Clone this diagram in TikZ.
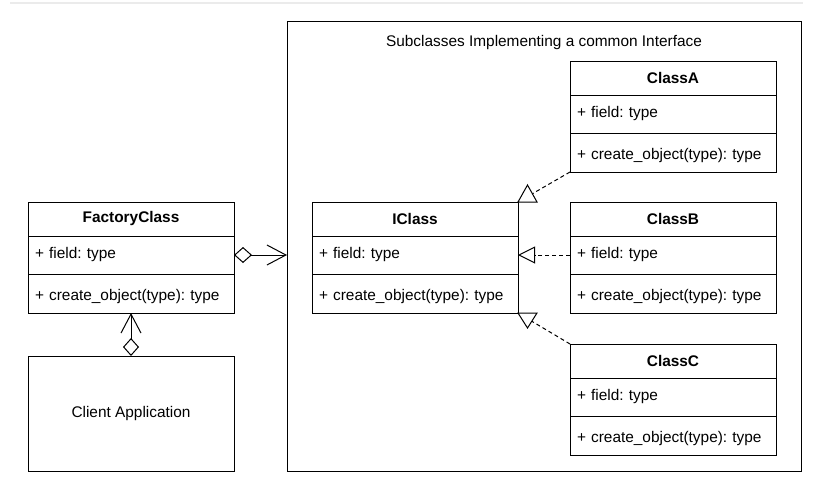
\documentclass[tikz,border=0pt]{standalone}
\usepackage{fontspec}
\setmainfont{Liberation Sans}
\usetikzlibrary{arrows.meta,positioning}
\frenchspacing

\begin{document}
\begin{tikzpicture}[
    x=1pt, y=-1pt,
    font=\fontsize{15.4}{18}\selectfont,
    classtitle/.style={
        rectangle,
        draw,
        line width=1pt,
        outer sep=0pt,
        minimum width=206pt,
        minimum height=34pt,
        inner sep=0pt,
        font=\fontsize{15.4}{18}\selectfont\bfseries
    },
    classfield/.style={
        rectangle,
        draw,
        line width=1pt,
        outer sep=0pt,
        minimum width=206pt,
        minimum height=38pt,
        text width=192pt,
        inner xsep=7pt,
        inner ysep=0pt,
        align=left
    },
    classmethod/.style={
        classfield,
        minimum height=39pt,
        text height=17pt,
        text depth=3pt
    },
    appbox/.style={
        rectangle,
        draw,
        line width=1pt,
        outer sep=0pt,
        minimum width=206pt,
        minimum height=115pt,
        align=center
    },
    frame/.style={
        rectangle,
        draw,
        line width=1pt,
        outer sep=0pt,
        minimum width=514pt,
        minimum height=450pt
    },
    aggr/.style={draw, line width=1pt, {Diamond[open,length=18pt,width=16pt]}-{Straight Barb[length=19pt,width=20pt]}},
    realize/.style={draw, line width=1pt, dash pattern=on 4pt off 3pt},
    gentip/.style={draw, line width=1pt, fill=white}
]
\useasboundingbox (0,0) rectangle (821,501);
\draw[line width=1.5pt, black!8] (10,3) -- (803,3);

% Frame round the subclasses
\node [frame] (frame) at (544,246) {};
\node at ([yshift=-22pt]frame.north) (frametitle) {Subclasses Implementing a common Interface};

% Factory and client
\node [classtitle] (factory) at (131,219) {FactoryClass};
\node [classfield, below=0pt of factory] (factoryfield) {+ field: type};
\node [classmethod, below=0pt of factoryfield] (factorymeth) {+ create\_object(type): type};

\node [appbox, below=43pt of factorymeth] (client) {Client Application};

% Interface
\node [classtitle] (iclass) at (415,219) {IClass};
\node [classfield, below=0pt of iclass] (iclassfield) {+ field: type};
\node [classmethod, below=0pt of iclassfield] (iclassmeth) {+ create\_object(type): type};

% Subclasses
\node [classtitle] (classa) at (673,78) {ClassA};
\node [classfield, below=0pt of classa] (classafield) {+ field: type};
\node [classmethod, below=0pt of classafield] (classameth) {+ create\_object(type): type};

\node [classtitle] (classb) at (673,219) {ClassB};
\node [classfield, below=0pt of classb] (classbfield) {+ field: type};
\node [classmethod, below=0pt of classbfield] (classbmeth) {+ create\_object(type): type};

\node [classtitle] (classc) at (673,361) {ClassC};
\node [classfield, below=0pt of classc] (classcfield) {+ field: type};
\node [classmethod, below=0pt of classcfield] (classcmeth) {+ create\_object(type): type};

% Aggregations
\draw [aggr] (factoryfield.east) -- (factoryfield.east -| frame.west);
\draw [aggr] (client.north) -- (factorymeth.south);

% Realizations
\draw [realize] (classameth.south west) -- (iclass.north east);
\draw [gentip] (iclass.north east) -- ++(19,0) -- ++(-9.5,-17) -- cycle;
\draw [realize, -{Triangle[open,length=17pt,width=17pt]}] (classbfield.west) -- (iclassfield.east);
\draw [realize] (classc.north west) -- (iclassmeth.south east);
\draw [gentip] (iclassmeth.south east) -- ++(19,0) -- ++(-9.5,15) -- cycle;

\end{tikzpicture}
\end{document}
